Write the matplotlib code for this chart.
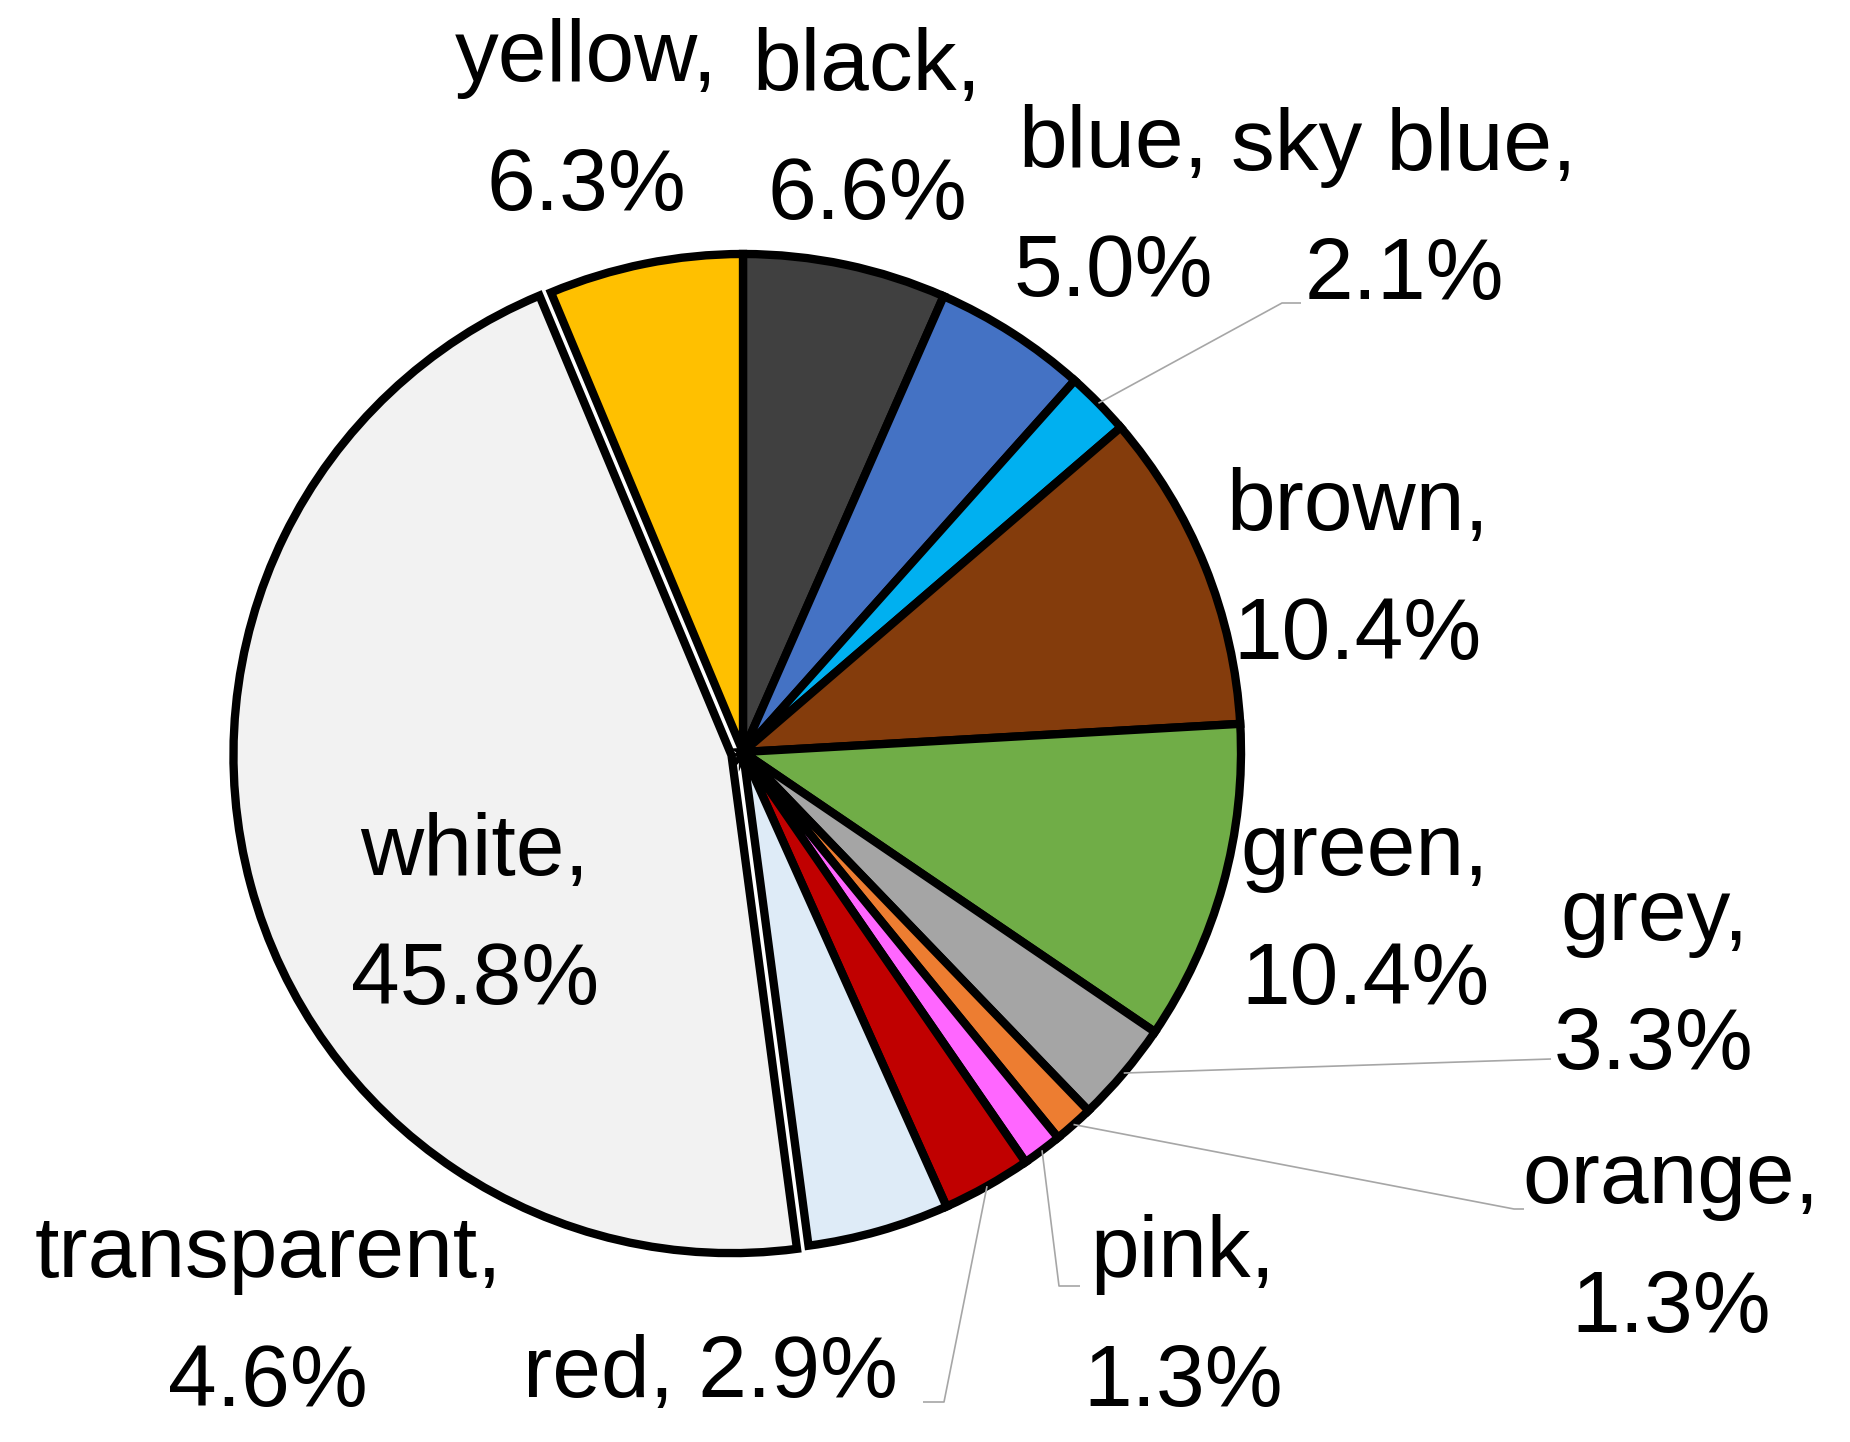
import numpy as np
import matplotlib
matplotlib.use('Agg')
import matplotlib.pyplot as plt

plt.rcParams['font.family'] = ['Liberation Sans', 'DejaVu Sans']

# slices, clockwise from 12 o'clock
names = ['black', 'blue', 'sky blue', 'brown', 'green', 'grey',
         'orange', 'pink', 'red', 'transparent', 'white', 'yellow']
shares = [6.6, 5.0, 2.1, 10.4, 10.4, 3.3, 1.3, 1.3, 2.9, 4.6, 45.8, 6.3]
fills = ['#404040', '#4472C4', '#00B0F0', '#843C0C', '#70AD47', '#A5A5A5',
         '#ED7D31', '#FF66FF', '#C00000', '#DEEBF7', '#F2F2F2', '#FFC000']

# label layout in pixel coords (y from top)
label_pos = {
    'black': (867, 132), 'blue': (1113, 209), 'sky blue': (1404, 212),
    'brown': (1358, 572), 'green': (1365, 917), 'grey': (1654, 982),
    'orange': (1671, 1245), 'pink': (1183, 1319), 'red': (710, 1374),
    'transparent': (268, 1319), 'white': (475, 917), 'yellow': (586, 123),
}
# leader elbows / ends for the small slices
leaders = {
    'sky blue': [(1282, 303), (1301, 303)],
    'grey': [(1551, 1059)],
    'orange': [(1514, 1209), (1524, 1209)],
    'pink': [(1059, 1286), (1080, 1286)],
    'red': [(944, 1402), (923, 1402)],
}

W, H = 1850, 1442
cx, cy, R = 743, 752, 498

# pie explode offset is in data units here, so scale by radius
explode = [0.024 * R if n == 'white' else 0 for n in names]

fig = plt.figure(figsize=(W / 100, H / 100), dpi=100)
ax = fig.add_axes([0, 0, 1, 1])

ax.pie(shares, colors=fills, startangle=90, counterclock=False,
       explode=explode, radius=R, center=(cx, H - cy),
       wedgeprops=dict(edgecolor='black', linewidth=6, joinstyle='miter'))
ax.set_xlim(0, W)
ax.set_ylim(0, H)
ax.set_aspect('equal')
ax.axis('off')

cum = np.cumsum([0] + shares)
for i, name in enumerate(names):
    x, y = label_pos[name]
    if name == 'red':
        txt = f'{name}, {shares[i]:.1f}%'
    else:
        txt = f'{name},\n{shares[i]:.1f}%'
    ax.text(x, H - y, txt, ha='center', va='center', fontsize=63,
            linespacing=1.75, color='black')
    if name in leaders:
        mid = np.deg2rad((cum[i] + cum[i + 1]) / 2 / 100 * 360)
        pts = [(cx + R * np.sin(mid), cy - R * np.cos(mid))] + leaders[name]
        ax.plot([p[0] for p in pts], [H - p[1] for p in pts],
                color='#A6A6A6', lw=1.2, solid_capstyle='butt')

fig.savefig('out.png', dpi=100)
